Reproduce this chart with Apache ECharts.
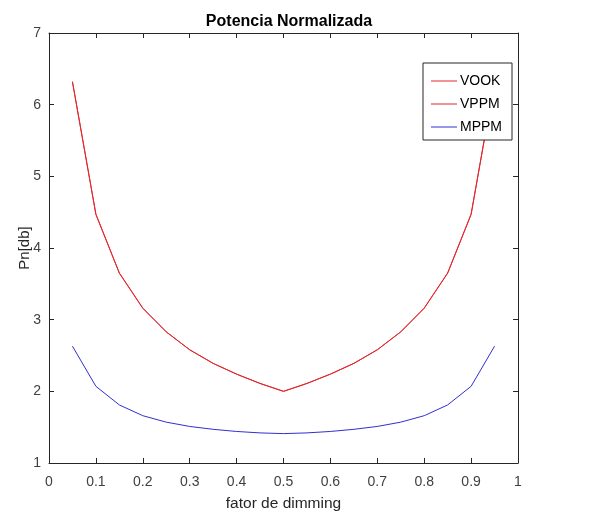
<!DOCTYPE html>
<html><head><meta charset="utf-8">
<script src="https://cdn.jsdelivr.net/npm/echarts@6/dist/echarts.min.js"></script>
<style>html,body{margin:0;padding:0;background:#fff}#c{width:604px;height:517px}</style>
</head><body><div id="c"></div>
<script>
const dimming = [0.05,0.10,0.15,0.20,0.25,0.30,0.35,0.40,0.45,0.50,0.55,0.60,0.65,0.70,0.75,0.80,0.85,0.90,0.95];
const vook = [6.32,4.47,3.65,3.16,2.83,2.58,2.39,2.24,2.11,2.00,2.11,2.24,2.39,2.58,2.83,3.16,3.65,4.47,6.32];
const vppm = [6.32,4.47,3.65,3.16,2.83,2.58,2.39,2.24,2.11,2.00,2.11,2.24,2.39,2.58,2.83,3.16,3.65,4.47,6.32];
const mppm = [2.63,2.07,1.81,1.66,1.57,1.51,1.47,1.44,1.42,1.41,1.42,1.44,1.47,1.51,1.57,1.66,1.81,2.07,2.63];
const xTicks = [0,0.1,0.2,0.3,0.4,0.5,0.6,0.7,0.8,0.9,1];
const yTicks = [1,2,3,4,5,6,7];
const seriesNames = ['VOOK','VPPM','MPPM'];

const font = 'Liberation Sans, Arial, Helvetica, sans-serif';
const axisCol = '#262626';
const red = '#e3262b', blue = '#3030d0';
const colors = [red, red, blue];
const pair = (ys) => dimming.map((x,i)=>[x,ys[i]]);
const xLabel = v => { const r = Math.round(v*10)/10; return xTicks.includes(r) ? String(r) : ''; };

const baseX = {
  type:'value', min:xTicks[0], max:xTicks[xTicks.length-1], interval:0.1,
  axisLine:{show:true,onZero:false,lineStyle:{color:axisCol,width:1}},
  axisTick:{show:true,inside:true,length:5,lineStyle:{color:axisCol}},
  splitLine:{show:false}
};
const baseY = {
  type:'value', min:yTicks[0], max:yTicks[yTicks.length-1], interval:1,
  axisLine:{show:true,onZero:false,lineStyle:{color:axisCol,width:1}},
  axisTick:{show:true,inside:true,length:5,lineStyle:{color:axisCol}},
  splitLine:{show:false}
};

const chart = echarts.init(document.getElementById('c'), null, {renderer:'canvas'});
chart.setOption({
  animation:false,
  backgroundColor:'#fff',
  color: colors,
  title:{text:'Potencia Normalizada', left:284, top:9, textAlign:'center',
    textStyle:{fontFamily:font,fontSize:16,fontWeight:'bold',color:'#000'}},
  grid:{left:49, right:86, top:33, bottom:53, containLabel:false},
  legend:{
    data:seriesNames.map((n,i)=>({name:n, icon:'rect', itemStyle:{color:colors[i]}})),
    orient:'vertical', left:423, top:63,
    itemWidth:26, itemHeight:1, itemGap:9,
    padding:[11,10,6,8],
    borderColor:axisCol, borderWidth:1, backgroundColor:'#fff',
    textStyle:{fontFamily:font,fontSize:14,color:'#000',padding:[0,0,0,-2]}
  },
  xAxis:[
    Object.assign({}, baseX, {position:'bottom',
      name:'fator de dimming', nameLocation:'middle', nameGap:33, nameMoveOverlap:false,
      nameTextStyle:{fontFamily:font,fontSize:15.5,color:'#262626'},
      axisLabel:{fontFamily:font,fontSize:14,color:'#404040',margin:12,formatter:xLabel}}),
    Object.assign({}, baseX, {position:'top', axisLabel:{show:false}})
  ],
  yAxis:[
    Object.assign({}, baseY, {position:'left',
      name:'Pn[db]', nameLocation:'middle', nameGap:17, nameRotate:90, nameMoveOverlap:false,
      nameTextStyle:{fontFamily:font,fontSize:15,color:'#262626'},
      axisLabel:{fontFamily:font,fontSize:14,color:'#404040',margin:8}}),
    Object.assign({}, baseY, {position:'right', axisLabel:{show:false}})
  ],
  series:[
    {name:seriesNames[0], type:'line', data:pair(vook), symbol:'none', lineStyle:{color:red,width:1}, itemStyle:{color:red}},
    {name:seriesNames[1], type:'line', data:pair(vppm), symbol:'none', lineStyle:{color:red,width:1}, itemStyle:{color:red}},
    {name:seriesNames[2], type:'line', data:pair(mppm), symbol:'none', lineStyle:{color:blue,width:1}, itemStyle:{color:blue}}
  ]
});
</script></body></html>
